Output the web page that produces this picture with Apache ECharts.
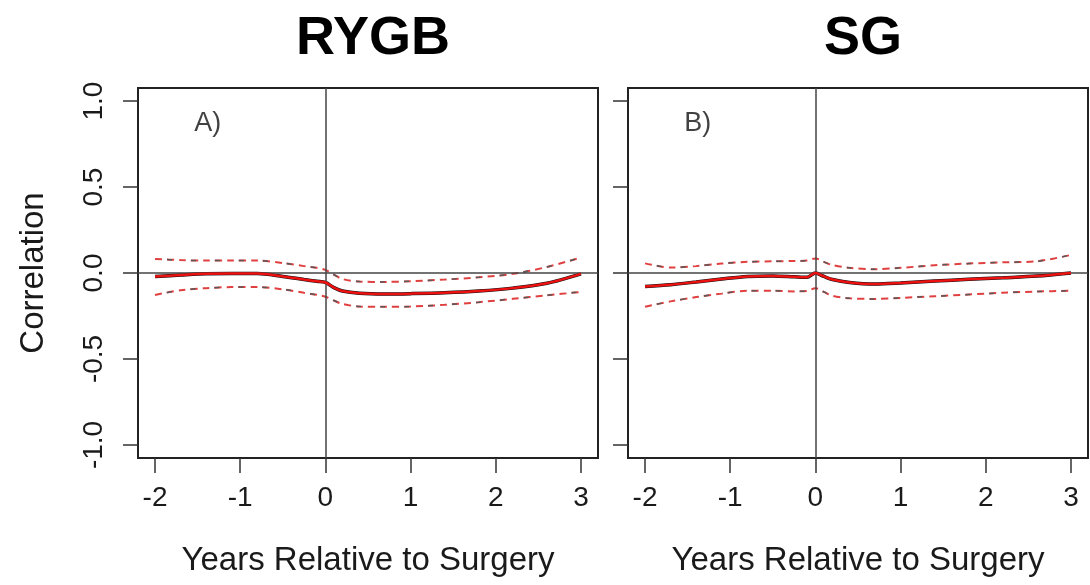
<!DOCTYPE html>
<html>
<head>
<meta charset="utf-8">
<script src="https://cdn.jsdelivr.net/npm/echarts@6/dist/echarts.min.js"></script>
<style>
html,body{margin:0;padding:0;background:#fff;}
#chart{width:1090px;height:585px;}
</style>
</head>
<body>
<div id="chart"></div>
<script>
// ---- data ----
var panelTitles = ['RYGB', 'SG'];
var panelLabels = ['A)', 'B)'];
var xTicks = [-2, -1, 0, 1, 2, 3];
var yTicks = [-1, -0.5, 0, 0.5, 1];
var years = [-2, -1.7, -1.4, -1.1, -0.8, -0.5, -0.25, -0.1, 0, 0.1, 0.2, 0.4, 0.7, 1.0, 1.4, 1.8, 2.2, 2.6, 3.0];

var rygbEst   = [-0.02, -0.012, -0.005, -0.003, -0.003, -0.02, -0.038, -0.048, -0.055, -0.085, -0.105, -0.118, -0.122, -0.12, -0.115, -0.105, -0.088, -0.06, -0.005];
var rygbUpper = [0.082, 0.075, 0.072, 0.072, 0.072, 0.058, 0.04, 0.03, 0.018, -0.01, -0.035, -0.05, -0.052, -0.048, -0.038, -0.025, -0.005, 0.035, 0.09];
var rygbLower = [-0.128, -0.1, -0.088, -0.082, -0.082, -0.095, -0.115, -0.127, -0.138, -0.16, -0.18, -0.195, -0.197, -0.195, -0.185, -0.17, -0.15, -0.13, -0.11];

var sgEst   = [-0.078, -0.068, -0.052, -0.035, -0.02, -0.017, -0.022, -0.025, 0.0, -0.02, -0.038, -0.055, -0.064, -0.058, -0.047, -0.037, -0.028, -0.018, 0.0];
var sgUpper = [0.056, 0.032, 0.04, 0.055, 0.065, 0.068, 0.07, 0.072, 0.085, 0.065, 0.046, 0.03, 0.022, 0.03, 0.045, 0.055, 0.062, 0.068, 0.105];
var sgLower = [-0.196, -0.165, -0.14, -0.12, -0.103, -0.103, -0.107, -0.105, -0.088, -0.11, -0.133, -0.147, -0.151, -0.145, -0.135, -0.125, -0.115, -0.108, -0.103];

var labelPos = [[-1.38, 0.87], [-1.38, 0.87]];
var xTitle = 'Years Relative to Surgery';
var yTitle = 'Correlation';

// ---- build ----
var FONT = '"Liberation Sans", Arial, Helvetica, sans-serif';
function pairs(xs, ys){ return xs.map(function(x,i){ return [x, ys[i]]; }); }

var panels = [
  {est: rygbEst, up: rygbUpper, lo: rygbLower},
  {est: sgEst, up: sgUpper, lo: sgLower}
];

var grids = [
  {left: 138, top: 88, width: 460, height: 370, show: true, borderColor: '#222', borderWidth: 2, backgroundColor: 'transparent'},
  {left: 628, top: 88, width: 460, height: 370, show: true, borderColor: '#222', borderWidth: 2, backgroundColor: 'transparent'}
];

var xAxes = [], yAxes = [], series = [], titles = [];
panels.forEach(function(p, i){
  xAxes.push({
    type: 'value', gridIndex: i, min: -2.2, max: 3.2, position: 'bottom',
    name: xTitle, nameLocation: 'middle', nameGap: 86,
    nameTextStyle: {fontFamily: FONT, fontSize: 33, color: '#1a1a1a'},
    axisLine: {show: false, onZero: false},
    splitLine: {show: false},
    axisTick: {show: true, inside: false, length: 15, customValues: xTicks, lineStyle: {color: '#333', width: 1.5}},
    axisLabel: {show: true, customValues: xTicks, margin: 26, fontFamily: FONT, fontSize: 28, color: '#1a1a1a'}
  });
  yAxes.push({
    type: 'value', gridIndex: i, min: -1.076, max: 1.076, position: 'left',
    name: i === 0 ? yTitle : '', nameLocation: 'middle', nameGap: 88, nameRotate: 90,
    nameTextStyle: {fontFamily: FONT, fontSize: 33, color: '#1a1a1a'},
    axisLine: {show: false, onZero: false},
    splitLine: {show: false},
    axisTick: {show: true, inside: false, length: 15, customValues: yTicks, lineStyle: {color: '#333', width: 1.5}},
    axisLabel: {show: i === 0, customValues: yTicks, rotate: 90, margin: 30, fontFamily: FONT, fontSize: 28, color: '#1a1a1a',
      formatter: function(v){ return Number(v).toFixed(1); }}
  });
  titles.push({
    text: panelTitles[i], left: i === 0 ? 368 : 858, top: 7, textAlign: 'center',
    textStyle: {fontFamily: FONT, fontSize: 54, fontWeight: 'bold', color: '#000'}
  });
  series.push({
    type: 'line', xAxisIndex: i, yAxisIndex: i, data: pairs(years, p.up), smooth: 0.3, symbol: 'none', silent: true,
    lineStyle: {color: '#e04040', width: 2, type: [7, 5]}, z: 3,
    markLine: {
      silent: true, symbol: 'none', label: {show: false},
      lineStyle: {color: '#444', width: 1.5, type: 'solid'},
      data: [{xAxis: 0}, {yAxis: 0}]
    }
  });
  series.push({
    type: 'line', xAxisIndex: i, yAxisIndex: i, data: pairs(years, p.up), smooth: 0.3, symbol: 'none', silent: true,
    lineStyle: {color: '#5a5a5a', width: 1.5, type: [5, 19], dashOffset: 12}, z: 3
  });
  series.push({
    type: 'line', xAxisIndex: i, yAxisIndex: i, data: pairs(years, p.lo), smooth: 0.3, symbol: 'none', silent: true,
    lineStyle: {color: '#e04040', width: 2, type: [7, 5]}, z: 3
  });
  series.push({
    type: 'line', xAxisIndex: i, yAxisIndex: i, data: pairs(years, p.lo), smooth: 0.3, symbol: 'none', silent: true,
    lineStyle: {color: '#5a5a5a', width: 1.5, type: [5, 19], dashOffset: 12}, z: 3
  });
  series.push({
    type: 'line', xAxisIndex: i, yAxisIndex: i, data: pairs(years, p.est), smooth: 0.3, symbol: 'none', silent: true,
    lineStyle: {color: '#111', width: 3.5}, z: 4
  });
  series.push({
    type: 'line', xAxisIndex: i, yAxisIndex: i, data: pairs(years, p.est), smooth: 0.3, symbol: 'none', silent: true,
    lineStyle: {color: '#ee1111', width: 2.5}, z: 5
  });
  series.push({
    type: 'scatter', xAxisIndex: i, yAxisIndex: i, data: [labelPos[i]], symbolSize: 0, silent: true,
    label: {show: true, position: 'inside', formatter: panelLabels[i], fontFamily: FONT, fontSize: 27, color: '#111'}, z: 6
  });
});

var chart = echarts.init(document.getElementById('chart'), null, {renderer: 'canvas'});
chart.setOption({
  animation: false,
  backgroundColor: '#fff',
  title: titles,
  grid: grids,
  xAxis: xAxes,
  yAxis: yAxes,
  series: series
});
</script>
</body>
</html>
